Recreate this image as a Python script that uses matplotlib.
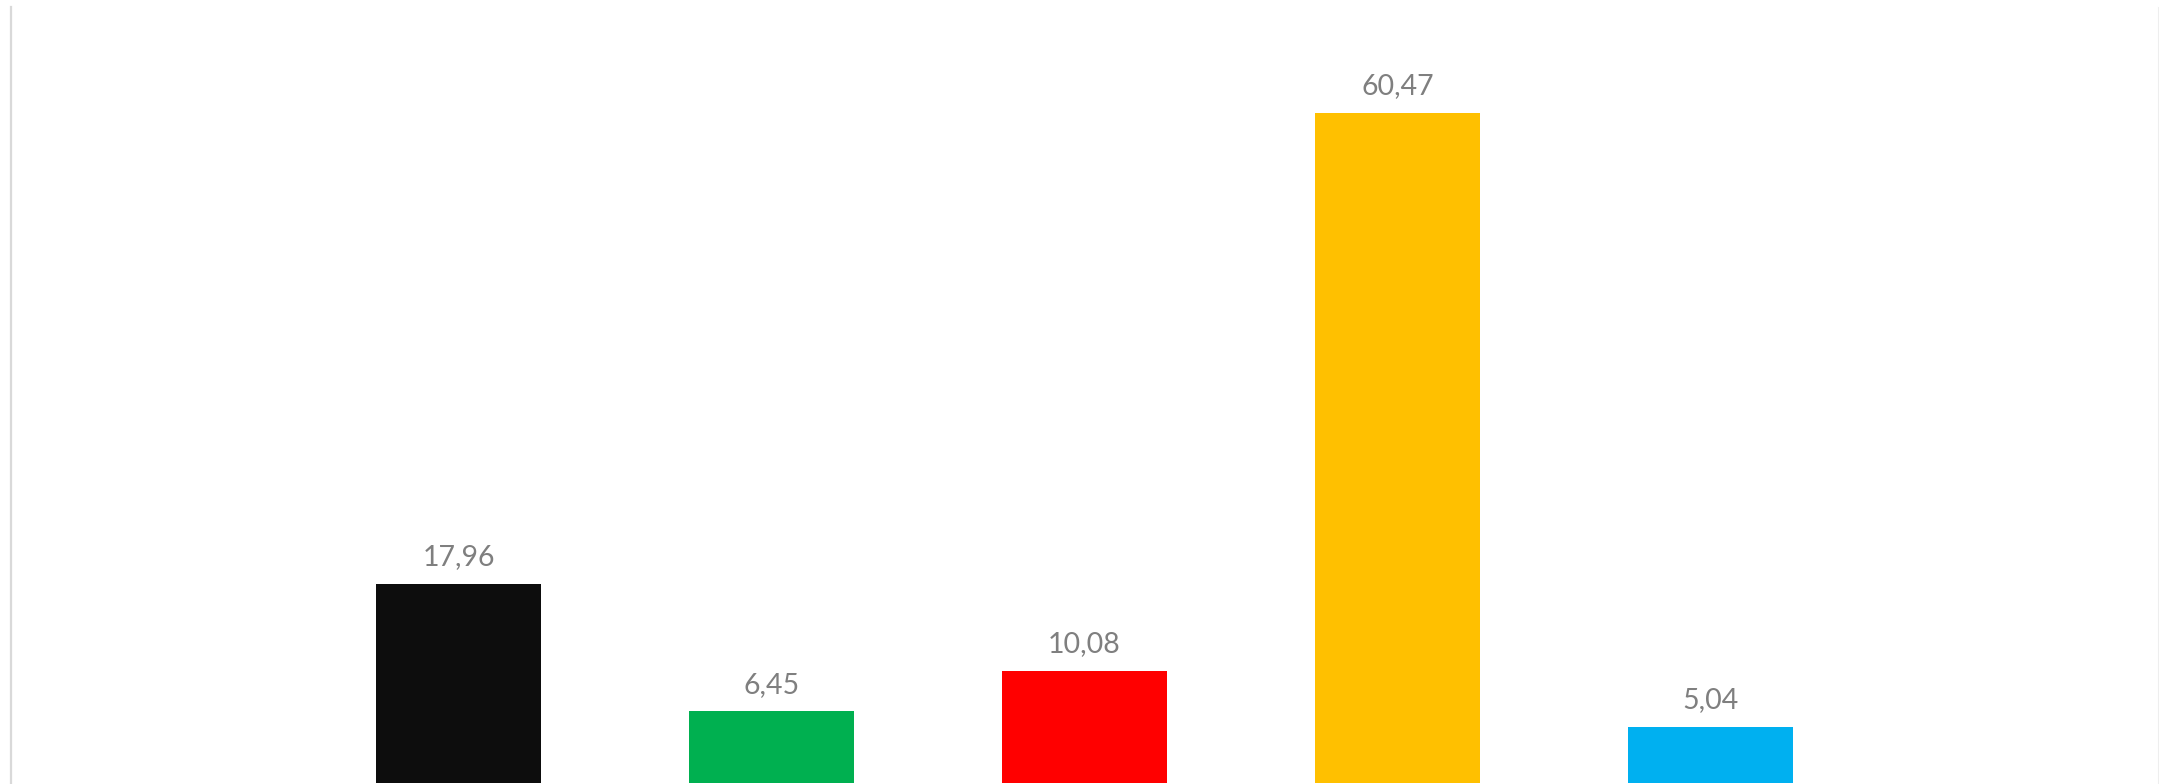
import matplotlib.pyplot as plt

# values
categories = ['1', '2', '3', '4', '5']
values = [17.96, 6.45, 10.08, 60.47, 5.04]
labels = ['17,96', '6,45', '10,08', '60,47', '5,04']
colors = ['#0d0d0d', '#00b050', '#ff0000', '#ffc000', '#00b0f0']

W, H = 2159, 784
fig = plt.figure(figsize=(W / 100, H / 100), dpi=100)
# plot area in pixels: x 11..2158, y 7..783
ax = fig.add_axes([11 / W, (H - 783) / H, (2158 - 11) / W, (783 - 7) / H])

x = list(range(len(categories)))
bars = ax.bar(x, values, width=0.527, color=colors)
ax.set_xlim(-1.43, len(categories) - 1 + 1.43)
ax.set_ylim(0, 70)

for b, lab in zip(bars, labels):
    ax.annotate(lab, (b.get_x() + b.get_width() / 2, b.get_height()),
                xytext=(0, 10), textcoords='offset points',
                ha='center', va='bottom', fontsize=20.5,
                color='#7f7f7f', family=['Lato', 'DejaVu Sans'])

ax.set_xticks([])
ax.set_yticks([])
for s in ['top', 'bottom']:
    ax.spines[s].set_visible(False)
ax.spines['left'].set_color('#d9d9d9')
ax.spines['left'].set_linewidth(1.6)
ax.spines['right'].set_color('#eeeeee')
ax.spines['right'].set_linewidth(0.8)

fig.savefig('out.png', dpi=100)
plt.close()
